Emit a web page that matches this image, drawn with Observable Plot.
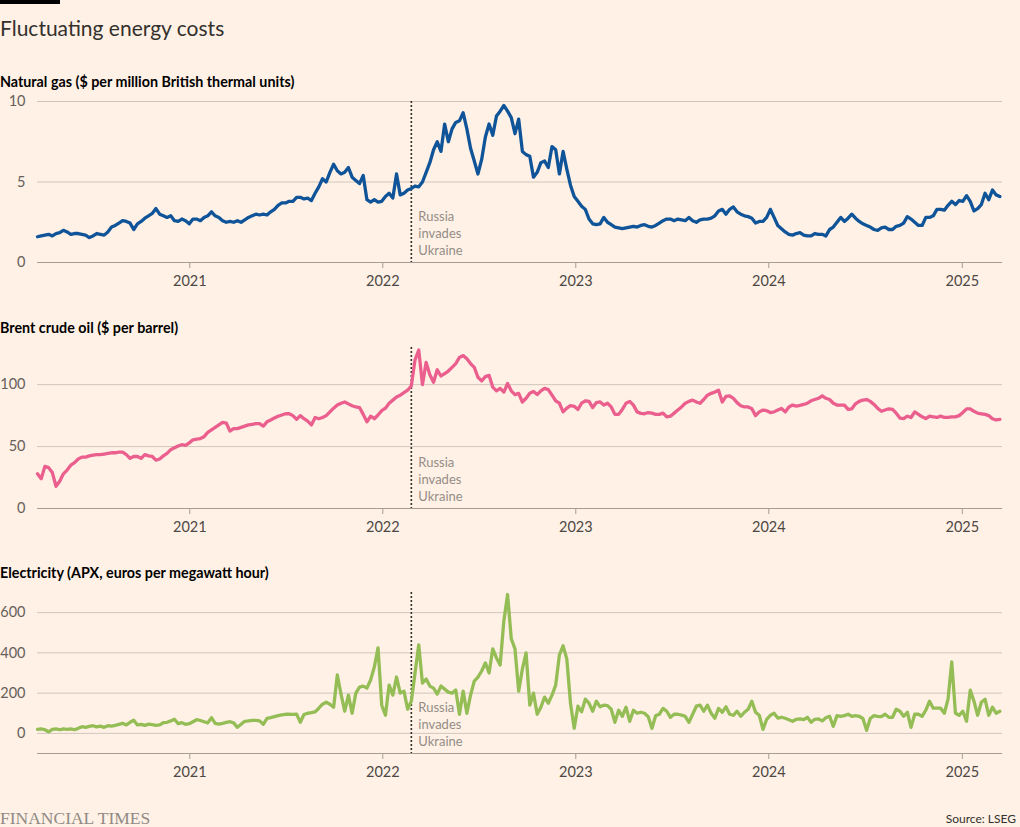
<!DOCTYPE html>
<html>
<head>
<meta charset="utf-8">
<script src="https://cdn.jsdelivr.net/npm/d3@7"></script>
<script src="https://cdn.jsdelivr.net/npm/@observablehq/plot@0.6"></script>
<style>
  body { margin: 0; background: #fff1e5; }
  #chart { position: relative; width: 1020px; height: 827px; background: #fff1e5; font-family: Lato, "Noto Sans", sans-serif; overflow: hidden; }
  .bar { position: absolute; left: 0; top: 0; width: 60px; height: 4px; background: #000; }
  .title { position: absolute; left: 0; top: 15px; font-size: 21px; line-height: 26px; color: #33302e; }
  .sub { position: absolute; left: 0; font-size: 14.3px; font-weight: 700; line-height: 16px; color: #000; }
  .panel { position: absolute; left: 0; }
  .ft { position: absolute; left: 0; top: 808px; font-family: "Liberation Serif", "DejaVu Serif", serif; font-size: 17.5px; line-height: 20px; color: #8f8a85; }
  .src { position: absolute; right: 4px; top: 812px; font-size: 12px; line-height: 14px; color: #33302e; }
</style>
</head>
<body>
<div id="chart"></div>
<script>
// ---------- data (weekly readings, first week starting 2020-03-19) ----------
const startDate = "2020-03-19";
const endDate = "2025-03-18";
const invasionDate = "2022-02-24";
const invasionLabel = "Russia\ninvades\nUkraine";
const yearTicks = ["2021", "2022", "2023", "2024", "2025"];

const gasTitle = "Natural gas ($ per million British thermal units)";
const gasTicks = [0, 5, 10];
const gasValues = [
  1.6,1.65,1.7,1.75,1.65,1.8,1.85,2.0,1.9,1.75,
  1.8,1.8,1.75,1.7,1.55,1.65,1.8,1.75,1.7,1.9,
  2.2,2.3,2.45,2.6,2.55,2.45,2.05,2.4,2.55,2.75,
  2.9,3.05,3.35,3.0,2.9,2.8,2.9,2.6,2.55,2.7,
  2.6,2.4,2.7,2.7,2.6,2.8,2.9,3.15,2.9,2.8,
  2.6,2.5,2.55,2.5,2.6,2.5,2.65,2.8,2.9,3.0,
  2.95,3.0,2.95,3.15,3.3,3.55,3.7,3.7,3.8,3.8,
  4.05,4.05,3.95,4.0,3.85,4.3,4.7,5.2,5.0,5.6,
  6.1,5.7,5.5,5.6,5.9,5.3,5.1,4.9,5.4,3.9,
  3.75,3.9,3.75,3.8,4.1,4.3,4.0,5.5,4.2,4.3,
  4.5,4.6,4.75,4.7,5.0,5.6,6.2,7.0,7.5,6.9,
  8.6,7.5,8.3,8.7,8.8,9.3,8.3,7.1,6.3,5.5,
  6.4,7.8,8.6,7.9,9.1,9.4,9.75,9.4,9.0,8.0,
  8.9,6.9,6.7,6.6,5.3,5.6,6.2,6.3,5.9,7.2,
  7.0,5.5,6.9,5.8,4.8,4.1,3.8,3.5,3.3,2.7,
  2.4,2.35,2.4,2.8,2.5,2.35,2.2,2.15,2.1,2.15,
  2.2,2.25,2.2,2.3,2.35,2.25,2.2,2.3,2.45,2.6,
  2.7,2.7,2.6,2.7,2.65,2.6,2.8,2.6,2.5,2.65,
  2.7,2.7,2.75,2.9,3.2,3.3,3.0,3.3,3.45,3.15,
  3.0,2.9,2.85,2.75,2.45,2.55,2.55,2.8,3.3,2.8,
  2.3,2.1,1.9,1.75,1.7,1.8,1.85,1.7,1.65,1.65,
  1.8,1.75,1.75,1.65,2.05,2.2,2.5,2.8,2.55,2.75,
  3.0,2.75,2.55,2.4,2.3,2.2,2.05,2.0,2.15,2.2,
  2.05,2.05,2.25,2.3,2.45,2.85,2.7,2.5,2.3,2.3,
  2.8,2.8,2.9,3.3,3.3,3.25,3.55,3.8,3.6,3.85,
  3.8,4.15,3.8,3.2,3.35,3.6,4.3,3.9,4.5,4.2,
  4.1
];

const oilTitle = "Brent crude oil ($ per barrel)";
const oilTicks = [0, 50, 100];
const oilValues = [
  28,24,34,33,29,18,22,28,31,35,
  37,40,41.5,41.5,42.5,43,43.5,43.5,44,44.5,
  45,45,45.5,45.5,43.5,40.5,42,42,40.5,43.5,
  42.5,42,39,40,42.5,44.5,47.5,49,50.5,51.5,
  51,53,55.5,56,56.5,58,61.5,63.5,65.5,67.5,
  69.5,69,62.5,64.5,64.5,65.5,66.5,67.5,68,68.5,
  68.5,66.5,70,71.5,73,74.5,75.5,76.5,76.5,75,
  72,75,72.5,70.5,67.5,73.5,72.5,73.5,75,78,
  81,83.5,85,86,84.5,83,82,81.5,76,70,
  74.5,72.5,75.5,79,81,85,87.5,90,91.5,93.5,
  95.5,99,120,128,100,118,108,102,112,107,
  109,111,114,117,122,123.5,121,117,114,106,
  103,106.5,107.5,98,95,97,94,101,95,92,
  93,86,89,93,94.5,92,95,97,96,91.5,
  87,85,78,81,83,82.5,80,85,87,86.5,
  81.5,85.5,86,83.5,85,82,76,76,80,85,
  86.5,83.5,78,76.8,76.5,77.5,77,76,76,77,
  74,74.5,77,79.5,82,85,86.5,87.5,86,85,
  88,91.5,93,94,95.5,86,90.5,91,89,85.5,
  83,82,82,80.5,75,78,79.5,79,77.5,78,
  79.5,80.8,78,82,83.5,82.7,83.3,84,85,87,
  88,89,91,89,88,85,83.5,83.5,83.5,80,
  80.5,84.5,86.5,87.6,88,86.5,84,80.8,78.5,79.5,
  80.5,80,77,73,72.5,74.5,73.5,78,76,74,
  72.7,74.5,74,73.5,74.6,73.5,73.5,74,74,75,
  77.5,80.5,80.5,78.5,77,76.5,76,75,72.5,71.5,
  72
];

const elecTitle = "Electricity (APX, euros per megawatt hour)";
const elecTicks = [0, 200, 400, 600];
const elecValues = [
  20,22,18,8,20,22,18,22,20,22,
  18,25,33,30,35,38,32,36,30,38,
  36,40,45,50,42,55,65,42,45,40,
  46,44,40,42,53,55,62,70,48,53,
  45,48,58,68,64,58,52,78,50,46,
  50,55,58,52,30,45,60,62,65,65,
  62,45,74,78,83,88,92,95,96,94,
  96,55,94,100,103,107,125,145,155,145,
  130,290,195,110,190,100,200,230,235,225,
  265,330,425,140,90,240,190,280,200,210,
  120,160,300,440,250,270,235,225,195,235,
  220,205,200,215,95,210,100,190,260,280,
  310,350,300,420,375,340,560,690,470,420,
  210,320,400,140,200,95,130,180,150,190,
  240,390,435,370,150,25,135,107,170,150,
  110,160,132,140,138,120,55,115,85,130,
  60,115,100,105,100,83,25,88,95,124,
  110,80,95,95,91,85,55,95,135,140,
  110,140,100,75,124,105,132,95,90,110,
  85,105,120,160,105,90,20,70,90,100,
  76,80,75,68,60,70,72,68,80,55,
  70,72,62,78,85,35,88,85,88,95,
  85,88,85,74,15,75,88,85,83,95,
  80,80,120,110,85,105,30,95,95,85,
  115,160,125,125,125,100,170,355,100,90,
  110,60,215,160,90,155,170,90,130,100,
  110
];

// ---------- build ----------
const parse = d3.utcParse("%Y-%m-%d");
const start = parse(startDate);
const end = parse(endDate);
const invasion = parse(invasionDate);
const years = yearTicks.map(y => d3.utcParse("%Y")(y));
const toSeries = vals => vals.map((v, i) => ({date: d3.utcDay.offset(start, 7 * i), value: v}));

const panels = [
  {title: gasTitle, values: gasValues, ticks: gasTicks, domain: [0, 10], color: "#0f5499", top: 101, subTop: 74},
  {title: oilTitle, values: oilValues, ticks: oilTicks, domain: [0, 130], color: "#eb5f8e", top: 347, subTop: 320},
  {title: elecTitle, values: elecValues, ticks: elecTicks, domain: [-100, 700], color: "#94bd56", top: 592, subTop: 565}
];

const root = document.getElementById("chart");
const add = (cls, text, top) => {
  const d = document.createElement("div");
  d.className = cls;
  if (text != null) d.textContent = text;
  if (top != null) d.style.top = top + "px";
  root.appendChild(d);
  return d;
};
add("bar");
add("title", "Fluctuating energy costs");

const mTop = 4, plotH = 161, mBottom = 32;
for (const p of panels) {
  add("sub", p.title, p.subTop);
  const data = toSeries(p.values);
  const grid = p.ticks.filter(t => t !== p.domain[0]);
  const svg = Plot.plot({
    width: 1020,
    height: mTop + plotH + mBottom,
    marginTop: mTop,
    marginBottom: mBottom,
    marginLeft: 37,
    marginRight: 18,
    style: {background: "transparent", fontFamily: "Lato, 'Noto Sans', sans-serif", fontSize: "14px", color: "#4d4845", overflow: "visible"},
    x: {type: "utc", domain: [start, end]},
    y: {domain: p.domain},
    marks: [
      Plot.gridY(grid, {stroke: "#d1c6bc", strokeOpacity: 1}),
      Plot.axisY(p.ticks, {tickSize: 0, tickPadding: 12, label: null, fill: "#66605c", fontSize: 14.5}),
      Plot.ruleY([p.domain[0]], {stroke: "#a59c94", strokeWidth: 1}),
      Plot.axisX(years, {tickSize: 6, tickPadding: 7, tickFormat: "%Y", label: null, stroke: "#a59c94", fill: "#4d4845", fontSize: 14.5}),
      Plot.ruleX([invasion], {stroke: "#33302e", strokeWidth: 1.6, strokeDasharray: "2,2"}),
      Plot.text([{date: invasion, label: invasionLabel}], {x: "date", text: "label", frameAnchor: "bottom", lineAnchor: "bottom", textAnchor: "start", dx: 7, dy: -8, lineHeight: 1.3, fill: "#948d87", fontSize: 13}),
      Plot.line(data, {x: "date", y: "value", stroke: p.color, strokeWidth: 3.3, strokeLinejoin: "round", strokeLinecap: "round"})
    ]
  });
  svg.classList.add("panel");
  svg.style.top = (p.top - mTop) + "px";
  svg.style.position = "absolute";
  svg.style.left = "0px";
  root.appendChild(svg);
}

add("ft", "FINANCIAL TIMES");
add("src", "Source: LSEG");
</script>
</body>
</html>
